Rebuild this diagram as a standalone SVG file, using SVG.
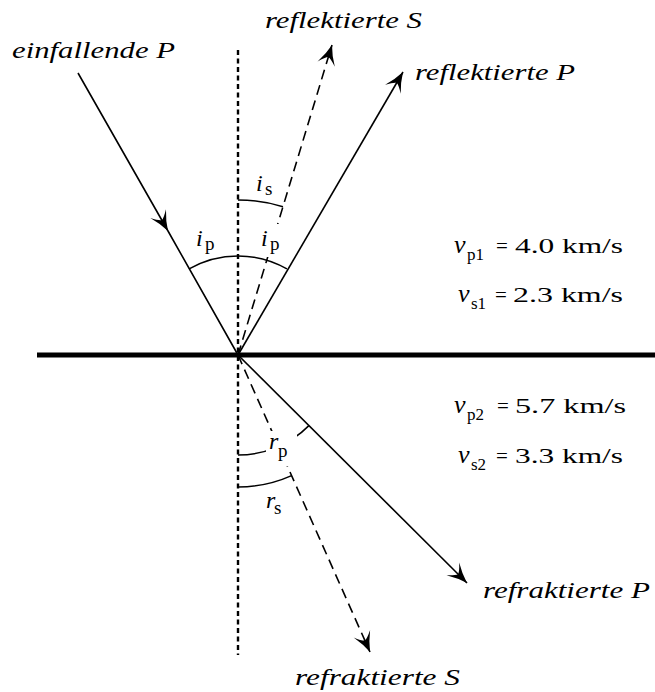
<svg xmlns="http://www.w3.org/2000/svg" width="655" height="692" viewBox="0 0 655 692">
<style>
.axis{stroke:#000;stroke-width:2.4;stroke-dasharray:5 3.5;fill:none}
.surface{stroke:#000;stroke-width:5;fill:none}
.ray{stroke:#000;stroke-width:1.6;fill:none}
.dray{stroke-dasharray:10 6}
.arc{stroke:#000;stroke-width:1.5;fill:none}
.mask{fill:#fff;stroke:none}
text{font-family:'Liberation Serif','Times New Roman','DejaVu Serif',serif;fill:#000}
.lbl{font-style:italic;font-size:24px}
.m{font-style:italic;font-size:24px}
.sub{font-style:normal;font-size:19px}
.vv{font-style:italic;font-size:26px}
.vsub{font-size:17px}
.vt{font-size:21px}
</style>
<defs>
<marker id="arr" markerUnits="userSpaceOnUse" markerWidth="26" markerHeight="22" viewBox="-22 -11 24 22" refX="0" refY="0" orient="auto" overflow="visible">
<path d="M0,0 Q-10,-3 -20,-9 Q-13.5,-3 -12.5,0 Q-13.5,3 -20,9 Q-10,3 0,0 Z" fill="#000" stroke="none"/>
</marker>
</defs>
<g id="background-lines">
<line class="surface" x1="37" y1="355" x2="655" y2="355"/>
<line class="axis" x1="238" y1="50" x2="238" y2="655"/>
</g>
<g id="connectors">
<path id="incident-P" class="ray" d="M78,73 L168,231 L238,355" marker-mid="url(#arr)"/>
<line id="reflected-P" class="ray" x1="238" y1="355" x2="403" y2="72" marker-end="url(#arr)"/>
<line id="reflected-S" class="ray dray" x1="238" y1="355" x2="332" y2="45" marker-end="url(#arr)"/>
<line id="refracted-P" class="ray" x1="238" y1="355" x2="467" y2="583" marker-end="url(#arr)"/>
<line id="refracted-S" class="ray dray" x1="238" y1="355" x2="370" y2="652" marker-end="url(#arr)"/>
</g>
<g id="angle-ip">
<path class="arc" d="M189.1,268.9 A99,99 0 0 1 286.9,268.9"/>
<text class="m" x="196" y="246">i</text><text class="sub" x="205" y="250">p</text>
<rect class="mask" x="260" y="224" width="31" height="33"/>
<text class="m" x="261" y="246">i</text><text class="sub" x="270" y="250">p</text>
</g>
<g id="angle-is">
<path class="arc" d="M238,200 A155,155 0 0 1 283,206.7"/>
<text class="m" x="256" y="191">i</text><text class="sub" x="265" y="195">s</text>
</g>
<g id="angle-rp">
<path class="arc" d="M238,455 A100,100 0 0 0 308.9,425.6"/>
<rect class="mask" x="266" y="431" width="31" height="35"/>
<text class="m" x="269" y="449">r</text><text class="sub" x="278" y="457">p</text>
</g>
<g id="angle-rs">
<path class="arc" d="M238,487 A132,132 0 0 0 291.6,475.6"/>
<text class="m" x="266" y="508">r</text><text class="sub" x="274" y="514">s</text>
</g>
<g id="label-incident-P"><text class="lbl" x="12" y="58" textLength="163" lengthAdjust="spacingAndGlyphs">einfallende P</text></g>
<g id="label-reflected-S"><text class="lbl" x="265" y="28" textLength="157" lengthAdjust="spacingAndGlyphs">reflektierte S</text></g>
<g id="label-reflected-P"><text class="lbl" x="415" y="80" textLength="160" lengthAdjust="spacingAndGlyphs">reflektierte P</text></g>
<g id="label-refracted-P"><text class="lbl" x="483" y="598" textLength="167" lengthAdjust="spacingAndGlyphs">refraktierte P</text></g>
<g id="label-refracted-S"><text class="lbl" x="295" y="685" textLength="165" lengthAdjust="spacingAndGlyphs">refraktierte S</text></g>
<g id="vp1">
<text class="vv" x="454" y="253">v</text><text class="vsub" x="467" y="260">p1</text>
<text class="vt" x="496" y="253">=</text>
<text class="vt" x="515" y="253" textLength="108" lengthAdjust="spacingAndGlyphs">4.0 km/s</text>
</g>
<g id="vs1">
<text class="vv" x="458" y="302">v</text><text class="vsub" x="471" y="309">s1</text>
<text class="vt" x="495" y="302">=</text>
<text class="vt" x="513" y="302" textLength="110" lengthAdjust="spacingAndGlyphs">2.3 km/s</text>
</g>
<g id="vp2">
<text class="vv" x="454" y="413">v</text><text class="vsub" x="467" y="420">p2</text>
<text class="vt" x="497" y="413">=</text>
<text class="vt" x="515" y="413" textLength="111" lengthAdjust="spacingAndGlyphs">5.7 km/s</text>
</g>
<g id="vs2">
<text class="vv" x="458" y="463">v</text><text class="vsub" x="471" y="470">s2</text>
<text class="vt" x="496" y="463">=</text>
<text class="vt" x="515" y="463" textLength="108" lengthAdjust="spacingAndGlyphs">3.3 km/s</text>
</g>
</svg>
